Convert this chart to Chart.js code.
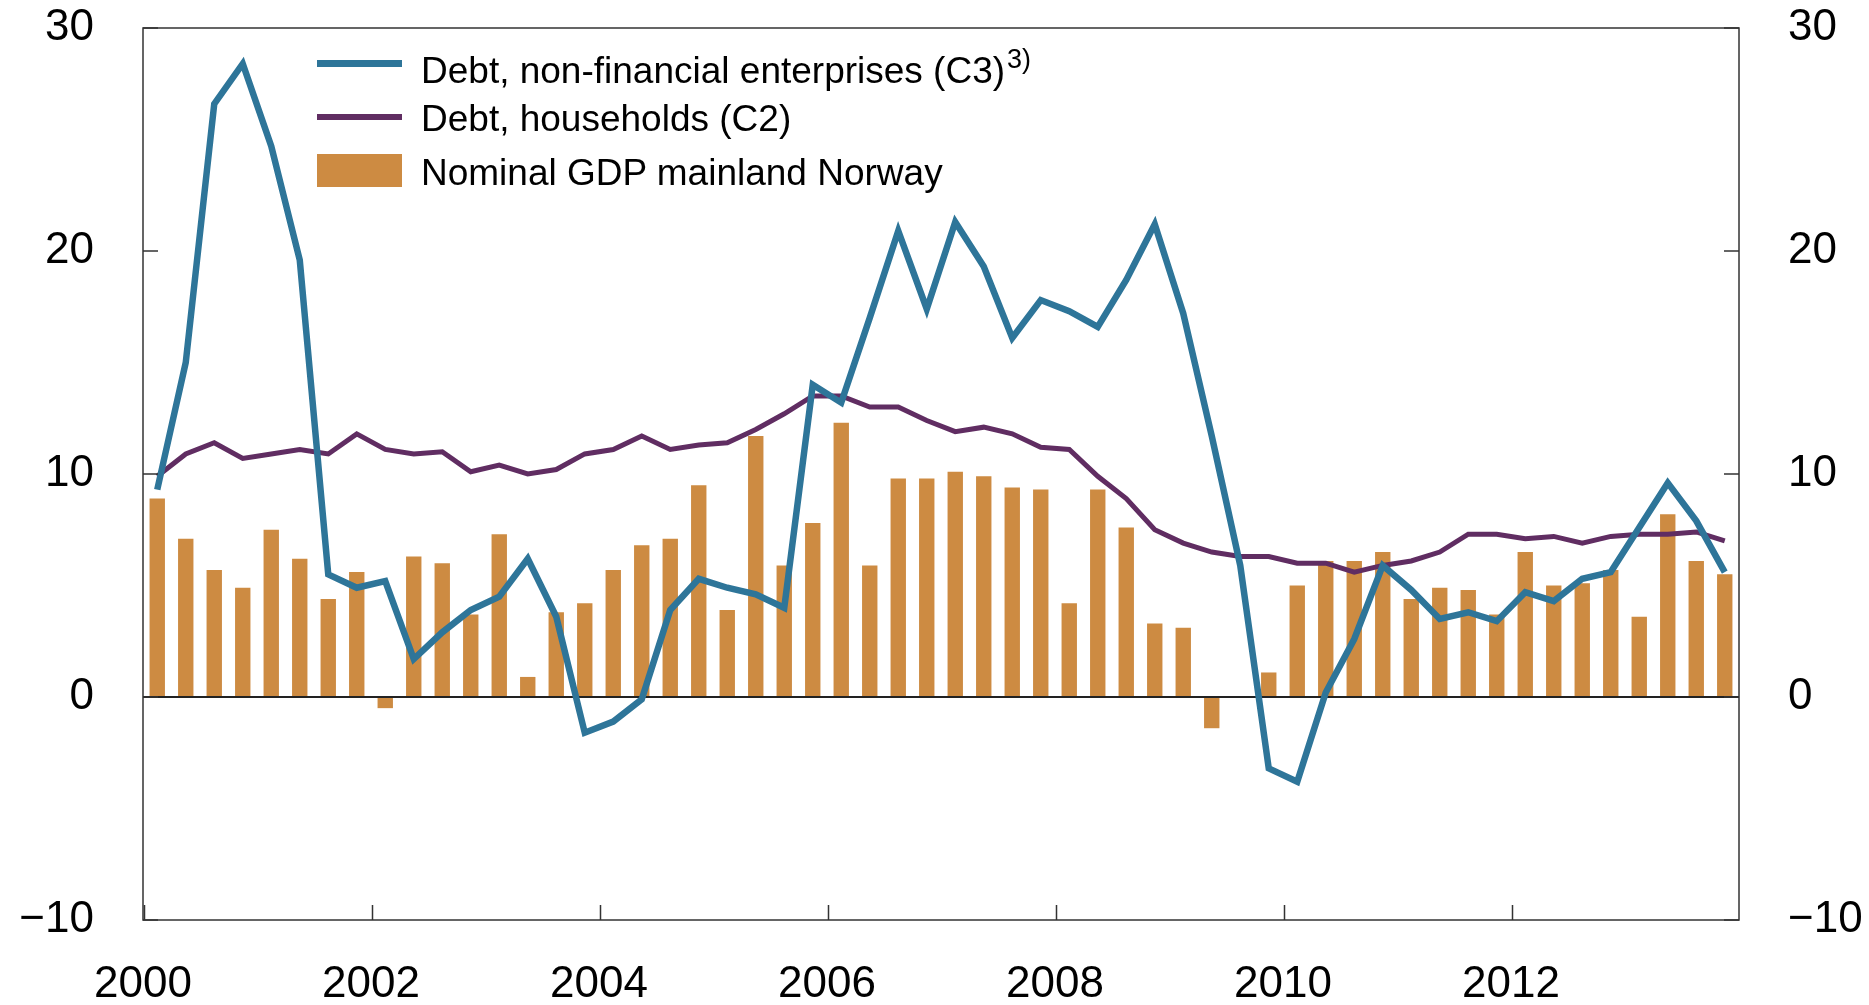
<!DOCTYPE html>
<html>
<head>
<meta charset="utf-8">
<script src="https://cdn.jsdelivr.net/npm/chart.js@4.4.1/dist/chart.umd.min.js"></script>
<style>
  body { margin: 0; background: #fff; }
  #wrap { position: relative; width: 1869px; height: 1005px; }
  #wrap canvas { position: absolute; left: 0; top: 0; }
  .legend { position: absolute; left: 317px; top: 0; font-family: 'Liberation Sans', Arial, sans-serif; font-size: 37px; color: #000; }
  .swatch { position: absolute; left: 0; width: 85px; }
  .txt { position: absolute; left: 104px; white-space: nowrap; line-height: 37px; }
  sup { font-size: 27px; vertical-align: 15px; line-height: 0; margin-left: 2px; }
</style>
</head>
<body>
<div id="wrap">
  <canvas id="chart" width="1869" height="1005"></canvas>
  <div class="legend">
    <span class="swatch" style="top:60px;height:7px;background:#2e7599"></span>
    <span class="txt" style="top:52px">Debt, non-financial enterprises (C3)<sup>3)</sup></span>
    <span class="swatch" style="top:114px;height:6px;background:#602d62"></span>
    <span class="txt" style="top:100px">Debt, households (C2)</span>
    <span class="swatch" style="top:154px;height:33px;background:#cd8b42"></span>
    <span class="txt" style="top:154px">Nominal GDP mainland Norway</span>
  </div>
</div>

<script>
    // quarterly, 2000Q1 - 2013Q4
    const years = [2000, 2001, 2002, 2003, 2004, 2005, 2006, 2007, 2008, 2009, 2010, 2011, 2012, 2013];
    const quarters = [];
    years.forEach(y => ['Q1', 'Q2', 'Q3', 'Q4'].forEach(q => quarters.push(y + q)));

    const yearTicks = ['2000', '2002', '2004', '2006', '2008', '2010', '2012'];

    const gdpMainland = [8.9, 7.1, 5.7, 4.9, 7.5, 6.2, 4.4, 5.6, -0.5, 6.3, 6.0, 3.7,
        7.3, 0.9, 3.8, 4.2, 5.7, 6.8, 7.1, 9.5, 3.9, 11.7, 5.9, 7.8,
        12.3, 5.9, 9.8, 9.8, 10.1, 9.9, 9.4, 9.3, 4.2, 9.3, 7.6, 3.3,
        3.1, -1.4, 0.0, 1.1, 5.0, 6.1, 6.1, 6.5, 4.4, 4.9, 4.8, 3.7,
        6.5, 5.0, 5.1, 5.7, 3.6, 8.2, 6.1, 5.5];

    const debtEnterprises = [9.3, 15.0, 26.6, 28.4, 24.7, 19.6, 5.5, 4.9, 5.2, 1.7, 2.9, 3.9,
        4.5, 6.2, 3.6, -1.6, -1.1, -0.1, 3.9, 5.3, 4.9, 4.6, 4.0, 14.0,
        13.2, 17.0, 20.9, 17.4, 21.3, 19.3, 16.1, 17.8, 17.3, 16.6, 18.7, 21.2,
        17.2, 11.7, 5.9, -3.2, -3.8, 0.2, 2.6, 5.9, 4.8, 3.5, 3.8, 3.4,
        4.7, 4.3, 5.3, 5.6, 7.6, 9.6, 7.9, 5.6];

    const debtHouseholds = [9.9, 10.9, 11.4, 10.7, 10.9, 11.1, 10.9, 11.8, 11.1, 10.9, 11.0, 10.1,
        10.4, 10.0, 10.2, 10.9, 11.1, 11.7, 11.1, 11.3, 11.4, 12.0, 12.7, 13.5,
        13.5, 13.0, 13.0, 12.4, 11.9, 12.1, 11.8, 11.2, 11.1, 9.9, 8.9, 7.5,
        6.9, 6.5, 6.3, 6.3, 6.0, 6.0, 5.6, 5.9, 6.1, 6.5, 7.3, 7.3,
        7.1, 7.2, 6.9, 7.2, 7.3, 7.3, 7.4, 7.0];

    const fontFamily = "'Liberation Sans', Arial, sans-serif";
    const minusFmt = v => v < 0 ? '\u2212' + Math.abs(v) : '' + v;

    // frame, zero line and the small inward ticks
    const framePlugin = {
        id: 'frame',
        afterDatasetDraw(chart, args) {
            if (args.meta.type !== 'bar') return;
            const a = chart.chartArea, ctx = chart.ctx;
            const y0 = chart.scales.y.getPixelForValue(0);
            ctx.save();
            ctx.strokeStyle = '#222';
            ctx.lineWidth = 2;
            ctx.beginPath();
            ctx.moveTo(a.left, y0);
            ctx.lineTo(a.right, y0);
            ctx.stroke();
            ctx.restore();
        },
        afterDraw(chart) {
            const a = chart.chartArea, ctx = chart.ctx;
            ctx.save();
            ctx.strokeStyle = '#333';
            ctx.lineWidth = 1.5;
            ctx.strokeRect(a.left, a.top, a.right - a.left, a.bottom - a.top);
            ctx.beginPath();
            chart.scales.y.ticks.forEach(t => {
                const py = chart.scales.y.getPixelForValue(t.value);
                ctx.moveTo(a.left, py); ctx.lineTo(a.left + 15, py);
                ctx.moveTo(a.right, py); ctx.lineTo(a.right - 15, py);
            });
            chart.scales.xYears.ticks.forEach(t => {
                const px = chart.scales.xYears.getPixelForValue(t.value);
                ctx.moveTo(px + 1.5, a.bottom); ctx.lineTo(px + 1.5, a.bottom - 15);
            });
            ctx.stroke();
            ctx.restore();
        }
    };

    const noOverflow = s => { s.paddingTop = 0; s.paddingBottom = 0; s.paddingLeft = 0; s.paddingRight = 0; };

    new Chart(document.getElementById('chart'), {
        type: 'bar',
        data: {
            labels: quarters,
            datasets: [{
                type: 'line',
                label: 'Debt, non-financial enterprises (C3)',
                data: debtEnterprises,
                borderColor: '#2e7599',
                borderWidth: 6.5,
                pointRadius: 0,
                tension: 0,
                order: 1
            }, {
                type: 'line',
                label: 'Debt, households (C2)',
                data: debtHouseholds,
                borderColor: '#602d62',
                borderWidth: 5,
                pointRadius: 0,
                tension: 0,
                order: 2
            }, {
                label: 'Nominal GDP mainland Norway',
                data: gdpMainland,
                backgroundColor: '#cd8b42',
                categoryPercentage: 0.9,
                barPercentage: 0.6,
                order: 3
            }]
        },
        options: {
            responsive: false,
            animation: false,
            devicePixelRatio: 1,
            layout: { autoPadding: false, padding: { top: 28, left: 0, right: 0, bottom: 0 } },
            plugins: { legend: { display: false }, tooltip: { enabled: false } },
            scales: {
                x: { display: false, offset: true },
                xYears: {
                    type: 'linear',
                    position: 'bottom',
                    offset: false,
                    min: 0,
                    max: 56,
                    afterFit: s => { noOverflow(s); s.height = 85; },
                    afterBuildTicks: s => { s.ticks = s.ticks.filter(t => t.value < 56); },
                    ticks: {
                        stepSize: 8,
                        padding: 30,
                        maxRotation: 0,
                        autoSkip: false,
                        color: '#000',
                        font: { family: fontFamily, size: 44 },
                        callback: v => yearTicks[v / 8]
                    },
                    grid: { display: false, offset: false },
                    border: { display: false }
                },
                y: {
                    position: 'left',
                    min: -10,
                    max: 30,
                    afterFit: s => { noOverflow(s); s.width = 143; },
                    ticks: {
                        stepSize: 10,
                        padding: 49,
                        color: '#000',
                        font: { family: fontFamily, size: 44 },
                        callback: minusFmt
                    },
                    grid: { display: false, drawTicks: false },
                    border: { display: false }
                },
                yRight: {
                    position: 'right',
                    min: -10,
                    max: 30,
                    afterFit: s => { noOverflow(s); s.width = 130; },
                    ticks: {
                        stepSize: 10,
                        padding: 49,
                        color: '#000',
                        font: { family: fontFamily, size: 44 },
                        callback: minusFmt
                    },
                    grid: { display: false, drawTicks: false },
                    border: { display: false }
                }
            }
        },
        plugins: [framePlugin]
    });
</script>
</body>
</html>
